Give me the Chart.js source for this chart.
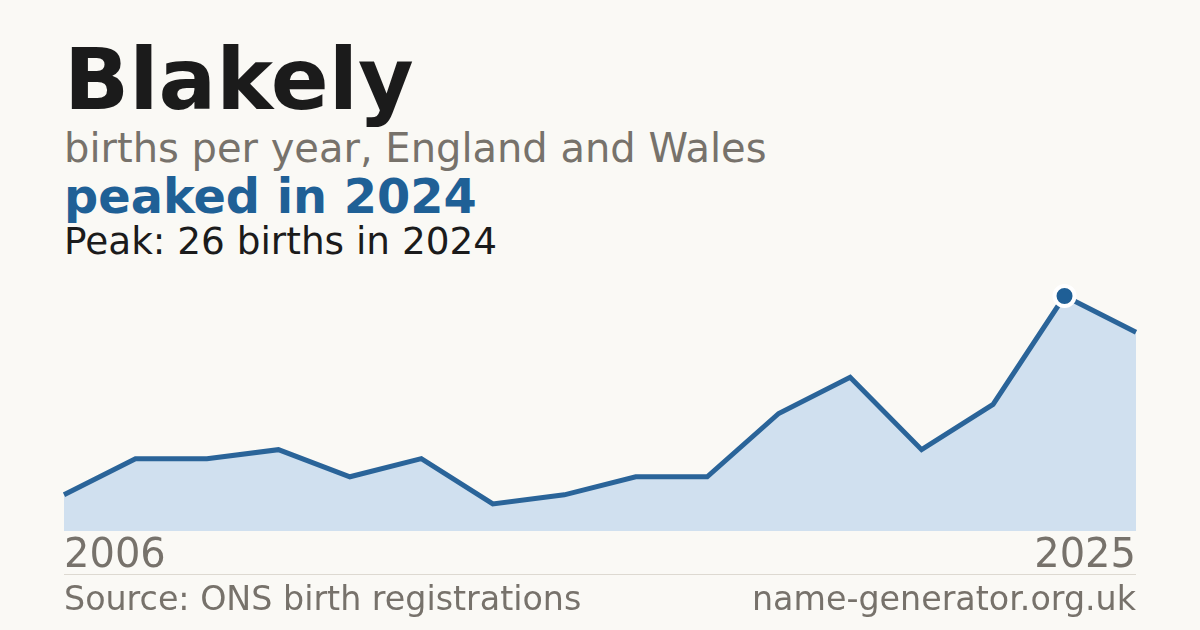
<!DOCTYPE html>
<html>
<head>
<meta charset="utf-8">
<script src="https://cdn.jsdelivr.net/npm/chart.js@4.4.1/dist/chart.umd.min.js"></script>
<style>
  html, body { margin: 0; padding: 0; }
  body { width: 1200px; height: 630px; background: #faf9f5; position: relative; overflow: hidden; font-family: "DejaVu Sans", sans-serif; }
  .t { position: absolute; left: 64px; white-space: nowrap; line-height: 1; }
  #title { top: 37px; font-size: 85.5px; font-weight: bold; color: #1b1b1b; }
  #sub { top: 128px; font-size: 40px; color: #77726b; }
  #hl { top: 173px; font-size: 47.8px; font-weight: bold; color: #1f6096; }
  #peak { top: 223px; font-size: 37.4px; color: #1b1b1b; }
  #sep { position: absolute; left: 64px; width: 1072px; top: 574px; height: 1px; background: #ddd9d1; }
  #src { top: 582px; font-size: 33.3px; color: #77726b; }
  #site { left: auto; right: 64px; top: 582px; font-size: 33.3px; color: #77726b; }
  #wrap { position: absolute; left: 0; top: 270px; width: 1200px; height: 313px; }
</style>
</head>
<body>
<div class="t" id="title">Blakely</div>
<div class="t" id="sub">births per year, England and Wales</div>
<div class="t" id="hl">peaked in 2024</div>
<div class="t" id="peak">Peak: 26 births in 2024</div>
<div id="wrap"><canvas id="c"></canvas></div>
<div id="sep"></div>
<div class="t" id="src">Source: ONS birth registrations</div>
<div class="t" id="site">name-generator.org.uk</div>
<script>
const years = ["2006","2007","2008","2009","2010","2011","2013","2014","2016","2017","2019","2020","2022","2023","2024","2025"];
const births = [4, 8, 8, 9, 6, 8, 3, 4, 6, 6, 13, 17, 9, 14, 26, 22];
const peakYear = "2024";

const peakIdx = years.indexOf(peakYear);
new Chart(document.getElementById('c'), {
  type: 'line',
  data: {
    labels: years,
    datasets: [{
      data: births,
      borderColor: '#2a6499',
      borderWidth: 5,
      backgroundColor: '#d0e0ef',
      fill: 'origin',
      tension: 0,
      clip: false,
      pointRadius: births.map((v, i) => i === peakIdx ? 10 : 0),
      pointBackgroundColor: '#1f5f96',
      pointBorderColor: '#ffffff',
      pointBorderWidth: 4,
      pointHoverRadius: 0
    }]
  },
  options: {
    responsive: true,
    maintainAspectRatio: false,
    animation: false,
    events: [],
    layout: { padding: { left: 64, right: 64, top: 26, bottom: 0 } },
    plugins: { legend: { display: false }, tooltip: { enabled: false } },
    scales: {
      x: {
        offset: false,
        grid: { display: false, drawTicks: false },
        border: { display: false },
        ticks: {
          autoSkip: false,
          maxRotation: 0,
          align: 'inner',
          padding: 2,
          color: '#77726b',
          font: { family: 'DejaVu Sans', size: 40 },
          callback: function(v, i) { return (i === 0 || i === years.length - 1) ? years[i] : ''; }
        }
      },
      y: { display: false, min: 0, max: 26 }
    }
  }
});
</script>
</body>
</html>
